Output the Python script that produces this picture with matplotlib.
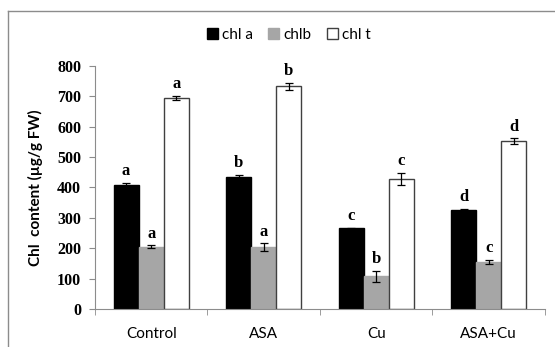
import matplotlib
matplotlib.use("Agg")
import matplotlib.pyplot as plt
import numpy as np
from matplotlib.lines import Line2D

groups = ["Control", "ASA", "Cu", "ASA+Cu"]
series = ["chl a", "chlb", "chl t"]
chl_a = [407, 435, 265, 325]
chl_b = [205, 203, 107, 155]
chl_t = [695, 733, 428, 552]
err_a = [8, 7, 2, 4]
err_b = [5, 13, 18, 6]
err_t = [7, 12, 20, 10]
let_a = ["a", "b", "c", "d"]
let_b = ["a", "a", "b", "c"]
let_t = ["a", "b", "c", "d"]

values = [chl_a, chl_b, chl_t]
errors = [err_a, err_b, err_t]
letters = [let_a, let_b, let_t]
colors = ["black", "#a6a6a6", "white"]
edges = ["black", "#a6a6a6", "#404040"]

fig = plt.figure(figsize=(5.55, 3.47), dpi=100)
ax = fig.add_axes([0.171, 0.1095, 0.811, 0.7005])

# outer frame (only left and top visible in the crop)
fig.add_artist(Line2D([8/555, 8/555], [0, 1 - 11/347], transform=fig.transFigure, color="#8c8c8c", lw=1))
fig.add_artist(Line2D([8/555, 1], [1 - 11/347, 1 - 11/347], transform=fig.transFigure, color="#8c8c8c", lw=1))

x = np.arange(len(groups))
w = 0.223
for i in range(3):
    xs = x + (i - 1) * w
    ax.bar(xs, values[i], w, color=colors[i], edgecolor=edges[i], linewidth=1, label=series[i], zorder=2)
    ax.errorbar(xs, values[i], yerr=errors[i], fmt="none", ecolor="black", elinewidth=0.9, capsize=3, capthick=0.9, zorder=3)
    for xi, v, e, t in zip(xs, values[i], errors[i], letters[i]):
        ax.text(xi, v + e + 12, t, ha="center", va="bottom", fontsize=12, fontweight="bold",
                family="Liberation Serif")

ax.set_xlim(-0.5, 3.5)
ax.set_ylim(0, 800)
ax.set_yticks(range(0, 801, 100))
ax.set_yticklabels([str(v) for v in range(0, 801, 100)], fontsize=11.5, fontweight="bold", family="Liberation Serif")
ax.set_xticks(x)
ax.set_xticklabels(groups, fontsize=11, family="Lato")
ax.tick_params(axis="x", which="major", length=0, pad=13)
ax.set_xticks(np.arange(-0.5, 3.6, 1), minor=True)
ax.tick_params(axis="x", which="minor", length=4, color="#8c8c8c", direction="out")
ax.tick_params(axis="y", length=4, color="#8c8c8c", pad=6)
for s in ["top", "right"]:
    ax.spines[s].set_visible(False)
for s in ["left", "bottom"]:
    ax.spines[s].set_color("#8c8c8c")
ax.set_ylabel("Chl  content (µg/g FW)", fontsize=11, fontweight="bold", family="Lato", labelpad=10)

fig.legend(loc="center", bbox_to_anchor=(289/555, 1 - 35/347), ncol=3, frameon=False,
           prop={"family": "Lato", "size": 11}, handlelength=0.7, handleheight=0.7,
           handletextpad=0.3, columnspacing=1.0)

fig.savefig("out.png", dpi=100)
